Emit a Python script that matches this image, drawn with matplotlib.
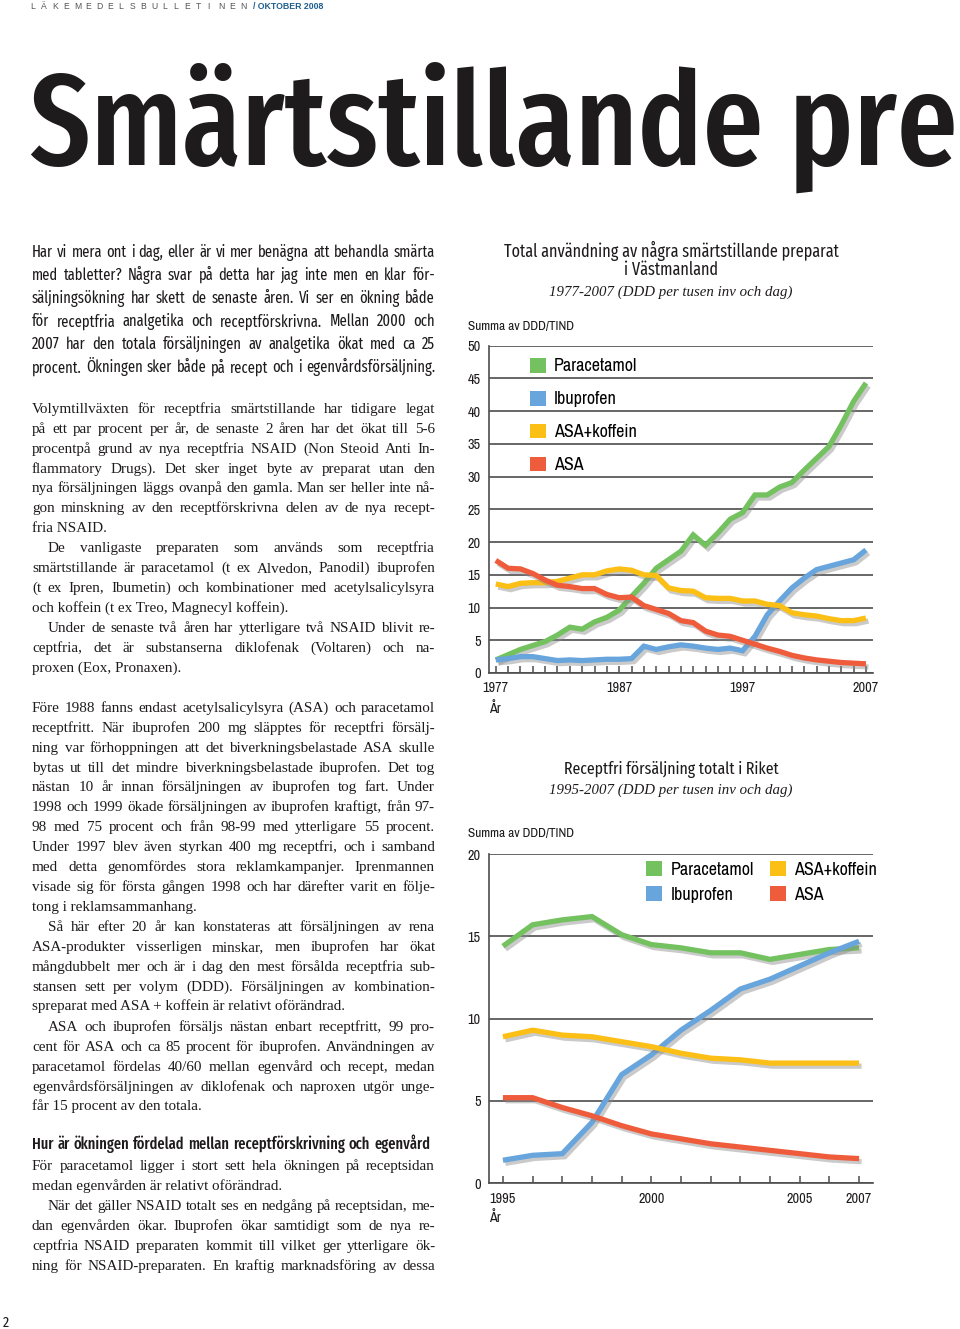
import matplotlib
matplotlib.use("Agg")
import matplotlib.pyplot as plt
import matplotlib.patheffects as pe
from matplotlib.patches import Patch
from matplotlib import font_manager as fm
from matplotlib.font_manager import FontProperties
import os

# ---------------- data ----------------
years_vm = list(range(1977, 2008))
vm_paracetamol = [2.0, 2.8, 3.6, 4.2, 4.8, 5.8, 7.0, 6.7, 7.8, 8.5, 9.6, 11.7, 13.7, 16.0, 17.3, 18.6,
                  21.1, 19.5, 21.4, 23.5, 24.5, 27.2, 27.2, 28.4, 29.1, 31.0, 32.8, 34.6, 37.9, 41.5, 44.3]
vm_ibuprofen = [2.0, 2.2, 2.5, 2.5, 2.2, 1.9, 2.0, 1.9, 2.0, 2.1, 2.1, 2.2, 4.1, 3.6, 4.0, 4.3,
                4.1, 3.8, 3.6, 3.8, 3.4, 5.6, 8.9, 11.0, 13.0, 14.5, 15.8, 16.3, 16.8, 17.3, 18.8]
vm_asakoffein = [13.6, 13.2, 13.7, 13.8, 13.8, 14.0, 14.5, 15.0, 15.0, 15.6, 15.9, 15.7, 15.0, 14.9, 13.0, 12.6,
                 12.5, 11.5, 11.4, 11.4, 11.0, 11.0, 10.5, 10.3, 9.2, 8.9, 8.7, 8.3, 8.0, 8.0, 8.4]
vm_asa = [17.2, 16.0, 15.9, 15.2, 14.2, 13.4, 13.2, 12.9, 12.9, 12.0, 11.5, 11.6, 10.3, 9.7, 9.1, 8.0,
          7.7, 6.4, 5.8, 5.6, 5.0, 4.4, 3.8, 3.3, 2.7, 2.3, 2.0, 1.8, 1.6, 1.5, 1.4]

years_rk = list(range(1995, 2008))
rk_paracetamol = [14.4, 15.7, 16.0, 16.2, 15.1, 14.5, 14.3, 14.0, 14.0, 13.6, 13.9, 14.2, 14.3]
rk_ibuprofen = [1.4, 1.7, 1.8, 3.7, 6.6, 7.8, 9.3, 10.5, 11.8, 12.4, 13.2, 14.0, 14.7]
rk_asakoffein = [8.9, 9.3, 9.0, 8.9, 8.6, 8.3, 7.9, 7.6, 7.5, 7.3, 7.3, 7.3, 7.3]
rk_asa = [5.2, 5.2, 4.6, 4.1, 3.5, 3.0, 2.7, 2.4, 2.2, 2.0, 1.8, 1.6, 1.5]

series_names = ["Paracetamol", "Ibuprofen", "ASA+koffein", "ASA"]
vm_labels = {1977: "1977", 1987: "1987", 1997: "1997", 2007: "2007"}
rk_labels = {1995: "1995", 2000: "2000", 2005: "2005", 2007: "2007"}

# ---------------- text ----------------
header_letters = "LÄKEMEDELSBULLETINEN"
header_issue = "/ OKTOBER 2008"
big_title = "Smärtstillande pre"

lead_lines = [
    "Har vi mera ont i dag, eller är vi mer benägna att behandla smärta",
    "med tabletter?  Några svar på detta har jag inte men en klar för-",
    "säljningsökning har skett de senaste åren. Vi ser en ökning både",
    "för receptfria analgetika och receptförskrivna. Mellan 2000 och",
    "2007 har den totala försäljningen av analgetika ökat med ca 25",
    "procent. Ökningen sker både på recept och i egenvårdsförsäljning.",
]

paragraphs = [
    (408, False, False, [
        "Volymtillväxten för receptfria smärtstillande har tidigare legat",
        "på ett par procent per år, de senaste 2 åren har det ökat till 5-6",
        "procentpå grund av nya receptfria NSAID (Non Steoid Anti In-",
        "flammatory Drugs). Det sker inget byte av preparat utan den",
        "nya försäljningen läggs ovanpå den gamla. Man ser heller inte nå-",
        "gon minskning av den receptförskrivna delen av de nya recept-",
        "fria NSAID."]),
    (547, True, False, [
        "De vanligaste preparaten som används som receptfria",
        "smärtstillande är paracetamol (t ex Alvedon, Panodil) ibuprofen",
        "(t ex Ipren, Ibumetin) och kombinationer med acetylsalicylsyra",
        "och koffein (t ex Treo, Magnecyl koffein)."]),
    (627, True, False, [
        "Under de senaste två åren har ytterligare två NSAID blivit re-",
        "ceptfria, det är substanserna diklofenak (Voltaren) och na-",
        "proxen (Eox, Pronaxen)."]),
    (707, False, False, [
        "Före 1988 fanns endast acetylsalicylsyra (ASA) och paracetamol",
        "receptfritt. När ibuprofen 200 mg släpptes för receptfri försälj-",
        "ning var förhoppningen att det biverkningsbelastade ASA skulle",
        "bytas ut till det mindre biverkningsbelastade ibuprofen. Det tog",
        "nästan 10 år innan försäljningen av ibuprofen tog fart. Under",
        "1998 och 1999 ökade försäljningen av ibuprofen kraftigt, från 97-",
        "98 med 75 procent och från 98-99 med ytterligare 55 procent.",
        "Under 1997 blev även styrkan 400 mg receptfri, och i samband",
        "med detta genomfördes stora reklamkampanjer. Iprenmannen",
        "visade sig för första gången 1998 och har därefter varit en följe-",
        "tong i reklamsammanhang."]),
    (926, True, False, [
        "Så här efter 20 år kan konstateras att försäljningen av rena",
        "ASA-produkter visserligen minskar, men ibuprofen har ökat",
        "mångdubbelt mer och är i dag den mest försålda receptfria sub-",
        "stansen sett per volym (DDD). Försäljningen av kombination-",
        "spreparat med ASA + koffein är relativt oförändrad."]),
    (1026, True, False, [
        "ASA och ibuprofen försäljs nästan enbart receptfritt, 99 pro-",
        "cent för ASA och ca 85 procent för ibuprofen. Användningen av",
        "paracetamol fördelas 40/60 mellan egenvård och recept, medan",
        "egenvårdsförsäljningen av diklofenak och naproxen utgör unge-",
        "får 15 procent av den totala."]),
    (1165, False, False, [
        "För paracetamol ligger i stort sett hela ökningen på receptsidan",
        "medan egenvården är relativt oförändrad."]),
    (1205, True, True, [
        "När det gäller NSAID totalt ses en nedgång på receptsidan, me-",
        "dan egenvården ökar. Ibuprofen ökar samtidigt som de nya re-",
        "ceptfria NSAID preparaten kommit till vilket ger ytterligare ök-",
        "ning för NSAID-preparaten. En kraftig marknadsföring av dessa"]),
]
subheading = "Hur är ökningen fördelad mellan receptförskrivning och egenvård"

chart1_title1 = "Total användning av några smärtstillande preparat"
chart1_title2 = "i Västmanland"
chart1_sub = "1977-2007 (DDD per tusen inv och dag)"
chart2_title = "Receptfri försäljning totalt i Riket"
chart2_sub = "1995-2007 (DDD per tusen inv och dag)"
ylab = "Summa av DDD/TIND"

# ---------------- fonts ----------------
W, H = 960, 1329
_by_file = {os.path.basename(f.fname): f.fname for f in fm.fontManager.ttflist}


def font_file(*names):
    for n in names:
        if n in _by_file:
            return _by_file[n]
    return None


HUM_REG = font_file("FiraSansExtraCondensed-Regular.ttf", "FiraSansCondensed-Regular.ttf",
                    "RobotoCondensed-Regular.ttf")
HUM_MED = font_file("FiraSansExtraCondensed-Medium.ttf", "FiraSansCondensed-Medium.ttf",
                    "RobotoCondensed-Medium.ttf")
HUM_SEMI = font_file("FiraSansExtraCondensed-SemiBold.ttf", "FiraSansCondensed-SemiBold.ttf",
                     "RobotoCondensed-Bold.ttf")
GRO_REG = font_file("ArchivoNarrow[wght].ttf", "ArchivoNarrow-Regular.ttf",
                    "LiberationSansNarrow-Regular.ttf", "RobotoCondensed-Regular.ttf")


def fprop(path, size, weight="normal"):
    if path:
        return FontProperties(fname=path, size=size)
    return FontProperties(family=["Roboto", "DejaVu Sans"], size=size, weight=weight)


def hum(size, weight=400):
    path = {400: HUM_REG, 500: HUM_MED, 600: HUM_SEMI}[weight]
    return fprop(path, size, weight)


def gro(size):
    return fprop(GRO_REG, size)


def serif(size, style="normal"):
    return FontProperties(family=["Liberation Serif", "DejaVu Serif"], size=size, style=style)


COLORS = ["#74c160", "#67a5dc", "#fbbf16", "#ef5c3c"]
GRID = "#4d4d4d"
INK = "#1e1b1c"

fig = plt.figure(figsize=(W / 100, H / 100), dpi=100)
fig.patch.set_facecolor("white")
rend = fig.canvas.get_renderer()


def fx(x):
    return x / W


def fy(y):
    return 1 - y / H


def measure(text, fp):
    t = fig.text(0, 0, text, fontproperties=fp)
    w = t.get_window_extent(rend).width
    t.remove()
    return w


def fit_size(lines, fpfunc, avail, cap=None):
    widest = max(measure(" ".join(l.split()), fpfunc(20.0)) for l in lines)
    s = 20.0 * avail / widest
    return min(s, cap) if cap else s


def width_size(text, fpfunc, target):
    return 20.0 * target / measure(text, fpfunc(20.0))


def draw_line(text, x0, x1, ybase, justify, fp, color=INK):
    words = text.split()
    if not justify or len(words) < 2:
        fig.text(fx(x0), fy(ybase), text, ha="left", va="baseline", fontproperties=fp, color=color)
        return
    arts = [fig.text(0, fy(ybase), w, ha="left", va="baseline", fontproperties=fp, color=color)
            for w in words]
    widths = [a.get_window_extent(rend).width for a in arts]
    gap = (x1 - x0 - sum(widths)) / (len(words) - 1)
    x = x0
    for a, w in zip(arts, widths):
        a.set_x(fx(x))
        x += w + gap


# header (letter-spaced)
step = (240 - 30) / (len(header_letters) - 1)
for i, ch in enumerate(header_letters):
    fig.text(fx(30 + i * step), fy(9), ch, fontproperties=FontProperties(
        family=["Liberation Sans", "DejaVu Sans"], size=6.2), color="#555555",
             ha="left", va="baseline")
fig.text(fx(253), fy(9), header_issue, fontproperties=FontProperties(
    family=["Liberation Sans", "DejaVu Sans"], size=6.3, weight="bold"), color="#1f5f8f",
         ha="left", va="baseline")

# big title: as tall as the reference, but never wider than the page
ts = min(104.0, width_size(big_title, lambda s: hum(s, 500), 928))
fig.text(fx(30), fy(165), big_title, fontproperties=hum(ts, 500), color=INK,
         ha="left", va="baseline")

# lead paragraph
ls = fit_size(lead_lines, hum, 398)
for i, line in enumerate(lead_lines):
    draw_line(line, 32, 435, 257 + i * 23.1, True, hum(ls))

# serif body
LS = 19.85
all_body = [l for p in paragraphs for l in p[3]]
bs = fit_size(all_body, serif, 399, cap=11.4)
for y0, indent, last_just, lines in paragraphs:
    for i, line in enumerate(lines):
        x0 = 32 + (16 if (indent and i == 0) else 0)
        last = i == len(lines) - 1
        draw_line(line, x0, 435, y0 + 5 + i * LS, (not last) or last_just, serif(bs))

hs = fit_size([subheading], lambda s: hum(s, 500), 394)
draw_line(subheading, 32, 430, 1149, True, hum(hs, 500))

# page number
fig.text(fx(3), fy(1327), "2", fontproperties=hum(11), color=INK, ha="left", va="baseline")

# chart titles
t1 = width_size(chart1_title1, hum, 336)
fig.text(fx(671), fy(257), chart1_title1, fontproperties=hum(t1), ha="center", va="baseline", color=INK)
fig.text(fx(671), fy(275), chart1_title2, fontproperties=hum(t1), ha="center", va="baseline", color=INK)
st = width_size(chart1_sub, lambda s: serif(s, "italic"), 242)
fig.text(fx(671), fy(296), chart1_sub, fontproperties=serif(st, "italic"), ha="center",
         va="baseline", color=INK)
ys = width_size(ylab, gro, 107)
fig.text(fx(468), fy(330), ylab, fontproperties=gro(ys), ha="left", va="baseline", color=INK)

t2 = width_size(chart2_title, hum, 216)
fig.text(fx(671), fy(774), chart2_title, fontproperties=hum(t2), ha="center", va="baseline", color=INK)
fig.text(fx(671), fy(794), chart2_sub, fontproperties=serif(st, "italic"), ha="center",
         va="baseline", color=INK)
fig.text(fx(468), fy(837), ylab, fontproperties=gro(ys), ha="left", va="baseline", color=INK)

leg_size = width_size("Paracetamol", gro, 83)
tick_size = width_size("1977", gro, 26)


def make_chart(rect, years, series, xlim, ylim, ystep, labels, leg_anchor, ncol, pitch_px):
    left, top, right, bottom = rect
    ax = fig.add_axes([fx(left), fy(bottom), (right - left) / W, (bottom - top) / H])
    ax.set_xlim(*xlim)
    ax.set_ylim(*ylim)
    ax.set_yticks(range(ylim[0], ylim[1] + 1, ystep))
    ax.yaxis.grid(True, color=GRID, lw=1.2)
    ax.set_axisbelow(True)
    for s in ("top", "right"):
        ax.spines[s].set_visible(False)
    for s in ("left", "bottom"):
        ax.spines[s].set_color(GRID)
        ax.spines[s].set_linewidth(1.2)
    ax.set_xticks(years)
    ax.set_xticklabels([labels.get(y, "") for y in years])
    ax.tick_params(axis="x", direction="in", length=5, width=1.1, color=GRID, pad=6,
                   labelcolor=INK)
    ax.tick_params(axis="y", length=0, pad=6, labelcolor=INK)
    for lab in ax.get_xticklabels() + ax.get_yticklabels():
        lab.set_fontproperties(gro(tick_size))
    for vals, col in zip(series, COLORS):
        ax.plot(years, vals, color=col, lw=3.8, solid_joinstyle="miter", solid_capstyle="butt",
                path_effects=[pe.SimpleLineShadow(offset=(1.8, -2.2), shadow_color="#8a8a8a", alpha=0.45),
                              pe.Normal()], zorder=3)
    handles = [Patch(facecolor=c, edgecolor="none") for c in COLORS]
    fs_px = leg_size * 100 / 72
    hsz = 16 / fs_px
    ax.legend(handles, series_names, loc="upper left", bbox_to_anchor=leg_anchor, ncol=ncol,
              frameon=False, handlelength=hsz, handleheight=hsz, handletextpad=0.45,
              labelspacing=(pitch_px - 16) / fs_px, columnspacing=0.9, borderpad=0, borderaxespad=0,
              prop=gro(leg_size))
    return ax


ax1 = make_chart((489, 345.7, 873, 673), years_vm,
                 [vm_paracetamol, vm_ibuprofen, vm_asakoffein, vm_asa],
                 (1976.45, 2007.57), (0, 50), 5, vm_labels, (0.107, 0.963), 1, 32.3)
fig.text(fx(489), fy(713), "År", fontproperties=gro(tick_size), ha="left", va="baseline", color=INK)

ax2 = make_chart((489, 854, 873, 1183.3), years_rk,
                 [rk_paracetamol, rk_ibuprofen, rk_asakoffein, rk_asa],
                 (1994.53, 2007.47), (0, 20), 5, rk_labels, (0.41, 0.978), 2, 24.5)
fig.text(fx(489), fy(1222), "År", fontproperties=gro(tick_size), ha="left", va="baseline", color=INK)

fig.savefig("out.png", dpi=100, facecolor="white")
